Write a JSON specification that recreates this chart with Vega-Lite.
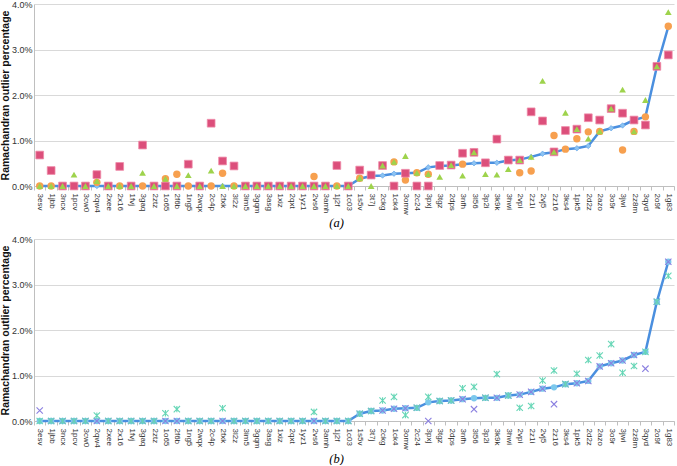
{
  "$schema": "https://vega.github.io/schema/vega-lite/v6.json",
  "padding": {"left": 0, "top": 0, "right": 0, "bottom": 0},
  "background": "white",
  "config": {
    "view": {"stroke": null},
    "font": "Liberation Sans",
    "axis": {"labelFont": "Liberation Sans", "titleFont": "Liberation Sans", "labelColor": "#333333", "titleColor": "#111111"}
  },
  "bounds": "flush",
  "spacing": 53,
  "datasets": {
    "d": [
      {"pdb": "3esv", "ref": 0, "sq": 0.68, "circ": 0, "tri": 0, "xm": 0.23, "st": 0},
      {"pdb": "1jbb", "ref": 0, "sq": 0.34, "circ": 0, "tri": 0, "xm": 0, "st": 0},
      {"pdb": "3ncx", "ref": 0, "sq": 0, "circ": 0, "tri": 0, "xm": 0, "st": 0},
      {"pdb": "1pcv", "ref": 0, "sq": 0, "circ": 0, "tri": 0.25, "xm": 0, "st": 0},
      {"pdb": "3cw0", "ref": 0, "sq": 0, "circ": 0, "tri": 0, "xm": 0, "st": 0},
      {"pdb": "2qw4", "ref": 0, "sq": 0.25, "circ": 0.08, "tri": 0.11, "xm": 0, "st": 0.12},
      {"pdb": "2xee", "ref": 0, "sq": 0, "circ": 0, "tri": 0, "xm": 0, "st": 0},
      {"pdb": "2x16", "ref": 0, "sq": 0.43, "circ": 0, "tri": 0, "xm": 0, "st": 0},
      {"pdb": "1fvj", "ref": 0, "sq": 0, "circ": 0, "tri": 0, "xm": 0, "st": 0},
      {"pdb": "3gaq", "ref": 0, "sq": 0.90, "circ": 0, "tri": 0.29, "xm": 0, "st": 0},
      {"pdb": "2ztz", "ref": 0, "sq": 0, "circ": 0, "tri": 0, "xm": 0, "st": 0},
      {"pdb": "1o65", "ref": 0, "sq": 0, "circ": 0.16, "tri": 0.16, "xm": 0, "st": 0.17},
      {"pdb": "2f6b", "ref": 0, "sq": 0, "circ": 0.26, "tri": 0, "xm": 0, "st": 0.26},
      {"pdb": "1ng5", "ref": 0, "sq": 0.48, "circ": 0, "tri": 0.24, "xm": 0, "st": 0},
      {"pdb": "2wqx", "ref": 0, "sq": 0, "circ": 0, "tri": 0, "xm": 0, "st": 0},
      {"pdb": "2c4p", "ref": 0, "sq": 1.38, "circ": 0, "tri": 0.34, "xm": 0, "st": 0},
      {"pdb": "2fxk", "ref": 0, "sq": 0.55, "circ": 0.28, "tri": 0, "xm": 0, "st": 0.28},
      {"pdb": "3l2z", "ref": 0, "sq": 0.44, "circ": 0, "tri": 0, "xm": 0, "st": 0},
      {"pdb": "3im5", "ref": 0, "sq": 0, "circ": 0, "tri": 0, "xm": 0, "st": 0},
      {"pdb": "3gqm", "ref": 0, "sq": 0, "circ": 0, "tri": 0, "xm": 0, "st": 0},
      {"pdb": "3asg", "ref": 0, "sq": 0, "circ": 0, "tri": 0, "xm": 0, "st": 0},
      {"pdb": "1xiz", "ref": 0, "sq": 0, "circ": 0, "tri": 0, "xm": 0, "st": 0},
      {"pdb": "2qxt", "ref": 0, "sq": 0, "circ": 0, "tri": 0, "xm": 0, "st": 0},
      {"pdb": "1yz1", "ref": 0, "sq": 0, "circ": 0, "tri": 0, "xm": 0, "st": 0},
      {"pdb": "2vs6", "ref": 0, "sq": 0, "circ": 0.21, "tri": 0, "xm": 0, "st": 0.20},
      {"pdb": "3amh", "ref": 0, "sq": 0, "circ": 0, "tri": 0, "xm": 0, "st": 0},
      {"pdb": "1j2f", "ref": 0, "sq": 0.45, "circ": 0, "tri": 0, "xm": 0, "st": 0},
      {"pdb": "1c03", "ref": 0, "sq": 0, "circ": 0, "tri": 0, "xm": 0, "st": 0},
      {"pdb": "1s5v", "ref": 0.16, "sq": 0.35, "circ": 0.17, "tri": 0.17, "xm": 0.16, "st": 0.16},
      {"pdb": "3t7j", "ref": 0.22, "sq": 0.24, "circ": 0.24, "tri": 0, "xm": 0.22, "st": 0.22},
      {"pdb": "2ckg", "ref": 0.23, "sq": 0.45, "circ": 0.45, "tri": 0.45, "xm": 0.23, "st": 0.45},
      {"pdb": "1ck4", "ref": 0.27, "sq": 0, "circ": 0.53, "tri": 0.53, "xm": 0.27, "st": 0.53},
      {"pdb": "3omw", "ref": 0.28, "sq": 0.28, "circ": 0.13, "tri": 0.66, "xm": 0.28, "st": 0.13},
      {"pdb": "2c24", "ref": 0.29, "sq": 0, "circ": 0.29, "tri": 0.29, "xm": 0.29, "st": 0.29},
      {"pdb": "3pxj", "ref": 0.41, "sq": 0, "circ": 0.26, "tri": 0.26, "xm": 0, "st": 0.53},
      {"pdb": "3tgz", "ref": 0.44, "sq": 0.45, "circ": 0.45, "tri": 0.20, "xm": 0.44, "st": 0.44},
      {"pdb": "2dps", "ref": 0.45, "sq": 0.46, "circ": 0.46, "tri": 0.46, "xm": 0.45, "st": 0.45},
      {"pdb": "3nfh", "ref": 0.48, "sq": 0.72, "circ": 0.48, "tri": 0.23, "xm": 0.48, "st": 0.72},
      {"pdb": "3l56", "ref": 0.50, "sq": 0.74, "circ": 0.74, "tri": 0.74, "xm": 0.26, "st": 0.75},
      {"pdb": "3p2i", "ref": 0.51, "sq": 0.51, "circ": 0.51, "tri": 0.26, "xm": 0.51, "st": 0.51},
      {"pdb": "3k9k", "ref": 0.51, "sq": 1.03, "circ": 1.03, "tri": 0.25, "xm": 0.51, "st": 1.03},
      {"pdb": "3hwi", "ref": 0.56, "sq": 0.57, "circ": 0.57, "tri": 0.37, "xm": 0.56, "st": 0.56},
      {"pdb": "2vpi", "ref": 0.58, "sq": 0.57, "circ": 0.29, "tri": 0.57, "xm": 0.58, "st": 0.29},
      {"pdb": "2z1i", "ref": 0.64, "sq": 1.63, "circ": 0.33, "tri": 0.64, "xm": 0.64, "st": 0.33},
      {"pdb": "2vj5", "ref": 0.71, "sq": 1.43, "circ": 1.43, "tri": 2.31, "xm": 0.71, "st": 0.89},
      {"pdb": "2z16", "ref": 0.74, "sq": 0.75, "circ": 1.11, "tri": 0.75, "xm": 0.37, "st": 1.11},
      {"pdb": "3ks4", "ref": 0.81, "sq": 1.22, "circ": 0.81, "tri": 1.61, "xm": 0.81, "st": 0.81},
      {"pdb": "1pk5", "ref": 0.83, "sq": 1.25, "circ": 1.04, "tri": 1.25, "xm": 0.83, "st": 1.04},
      {"pdb": "2d2z", "ref": 0.88, "sq": 1.50, "circ": 1.19, "tri": 1.04, "xm": 0.88, "st": 1.34},
      {"pdb": "2azo", "ref": 1.20, "sq": 1.45, "circ": 1.20, "tri": 1.20, "xm": 1.20, "st": 1.44},
      {"pdb": "3o9r", "ref": 1.27, "sq": 1.70, "circ": 1.70, "tri": 1.70, "xm": 1.27, "st": 1.69},
      {"pdb": "3jwi", "ref": 1.33, "sq": 1.60, "circ": 0.79, "tri": 2.12, "xm": 1.33, "st": 1.06},
      {"pdb": "2z8m", "ref": 1.45, "sq": 1.45, "circ": 1.20, "tri": 1.20, "xm": 1.45, "st": 1.21},
      {"pdb": "3qyd", "ref": 1.52, "sq": 1.34, "circ": 1.52, "tri": 1.89, "xm": 1.15, "st": 1.52},
      {"pdb": "2o9f", "ref": 2.62, "sq": 2.63, "circ": 2.63, "tri": 2.63, "xm": 2.62, "st": 2.62},
      {"pdb": "1g83", "ref": 3.50, "sq": 2.88, "circ": 3.51, "tri": 3.82, "xm": 3.50, "st": 3.19}
    ]
  },
  "data": {"name": "d"},
  "vconcat": [
    {
      "width": 640,
      "height": 182,
      "encoding": {
        "x": {
          "field": "pdb", "type": "nominal", "sort": null,
          "scale": {"type": "band", "paddingInner": 0, "paddingOuter": 0},
          "axis": {
            "labelAngle": 90, "labelFontSize": 8, "labelPadding": 3,
            "tickBand": "extent", "ticks": true, "tickSize": 4, "tickColor": "#bfbfbf",
            "domainColor": "#bfbfbf", "grid": false,
            "title": "(a)", "titleFont": "Liberation Serif", "titleFontStyle": "italic",
            "titleFontWeight": "normal", "titleFontSize": 12.5, "titleX": 302, "titleY": 36,
            "titleBaseline": "middle", "titleAlign": "center", "titleColor": "#000000"
          }
        }
      },
      "layer": [
        {
          "mark": {"type": "line", "color": "#4a8fdf", "strokeWidth": 2.5},
          "encoding": {
            "y": {
              "field": "ref", "type": "quantitative",
              "scale": {"domain": [0, 4], "nice": false},
              "axis": {
                "values": [0, 0.5, 1, 1.5, 2, 2.5, 3, 3.5, 4],
                "labelExpr": "format(datum.value, '.1f') + '%'",
                "labelFontSize": 9, "labelPadding": 2, "ticks": false,
                "grid": true, "gridColor": "#d9d9d9", "domainColor": "#bfbfbf",
                "title": "Ramachandran outlier percentage", "titleFontSize": 10.5,
                "titleFontWeight": "bold", "titlePadding": 1
              }
            }
          }
        },
        {
          "mark": {"type": "point", "shape": "diamond", "filled": true, "size": 30, "color": "#8cc3f2", "stroke": "#5a9de6", "strokeWidth": 0.6, "opacity": 1},
          "encoding": {"y": {"field": "ref", "type": "quantitative"}}
        },
        {
          "mark": {"type": "point", "shape": "circle", "filled": true, "size": 55, "color": "#f7a04f", "opacity": 1},
          "encoding": {"y": {"field": "circ", "type": "quantitative"}}
        },
        {
          "mark": {"type": "point", "shape": "square", "filled": true, "size": 60, "color": "#dc4f7b", "stroke": "#ef8aa8", "strokeWidth": 0.8, "opacity": 1},
          "encoding": {"y": {"field": "sq", "type": "quantitative"}}
        },
        {
          "mark": {"type": "point", "shape": "triangle-up", "filled": true, "size": 45, "color": "#9ed34c", "opacity": 1},
          "encoding": {"y": {"field": "tri", "type": "quantitative"}}
        }
      ]
    },
    {
      "width": 640,
      "height": 182,
      "encoding": {
        "x": {
          "field": "pdb", "type": "nominal", "sort": null,
          "scale": {"type": "band", "paddingInner": 0, "paddingOuter": 0},
          "axis": {
            "labelAngle": 90, "labelFontSize": 8, "labelPadding": 3,
            "tickBand": "extent", "ticks": true, "tickSize": 4, "tickColor": "#bfbfbf",
            "domainColor": "#bfbfbf", "grid": false,
            "title": "(b)", "titleFont": "Liberation Serif", "titleFontStyle": "italic",
            "titleFontWeight": "normal", "titleFontSize": 12.5, "titleX": 302, "titleY": 37,
            "titleBaseline": "middle", "titleAlign": "center", "titleColor": "#000000"
          }
        }
      },
      "layer": [
        {
          "mark": {"type": "line", "color": "#4a8fdf", "strokeWidth": 2.5},
          "encoding": {
            "y": {
              "field": "ref", "type": "quantitative",
              "scale": {"domain": [0, 4], "nice": false},
              "axis": {
                "values": [0, 0.5, 1, 1.5, 2, 2.5, 3, 3.5, 4],
                "labelExpr": "format(datum.value, '.1f') + '%'",
                "labelFontSize": 9, "labelPadding": 2, "ticks": false,
                "grid": true, "gridColor": "#d9d9d9", "domainColor": "#bfbfbf",
                "title": "Ramachandran outlier percentage", "titleFontSize": 10.5,
                "titleFontWeight": "bold", "titlePadding": 1
              }
            }
          }
        },
        {
          "mark": {"type": "point", "shape": "circle", "filled": true, "size": 40, "color": "#7cc8ec", "opacity": 1},
          "encoding": {"y": {"field": "ref", "type": "quantitative"}}
        },
        {
          "mark": {"type": "point", "shape": "M-1,-1L1,1M-1,1L1,-1", "filled": false, "size": 40, "color": "#8a7fe0", "strokeWidth": 1.1, "opacity": 1},
          "encoding": {"y": {"field": "xm", "type": "quantitative"}}
        },
        {
          "mark": {"type": "point", "shape": "M-1,-1L1,1M-1,1L1,-1M0,-1L0,1", "filled": false, "size": 40, "color": "#66d6b6", "strokeWidth": 1.1, "opacity": 1},
          "encoding": {"y": {"field": "st", "type": "quantitative"}}
        }
      ]
    }
  ]
}
